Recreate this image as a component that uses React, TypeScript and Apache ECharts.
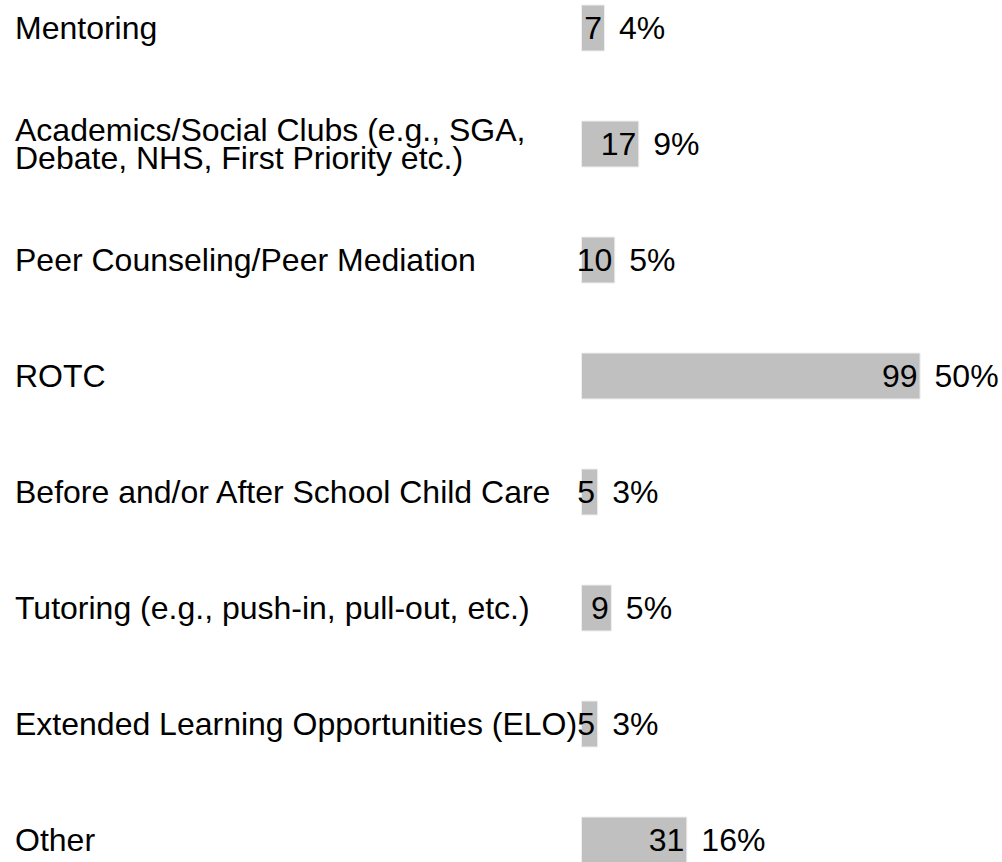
import React, { useEffect, useRef } from "react";
import * as echarts from "echarts";

const categories = [
  "Mentoring",
  "Academics/Social Clubs (e.g., SGA,\nDebate, NHS, First Priority etc.)",
  "Peer Counseling/Peer Mediation",
  "ROTC",
  "Before and/or After School Child Care",
  "Tutoring (e.g., push-in, pull-out, etc.)",
  "Extended Learning Opportunities (ELO)",
  "Other",
];
const counts = [7, 17, 10, 99, 5, 9, 5, 31];
const percents = ["4%", "9%", "5%", "50%", "3%", "5%", "3%", "16%"];

const FONT = "'Liberation Sans', Arial, sans-serif";

export default function App() {
  const ref = useRef<HTMLDivElement>(null);
  useEffect(() => {
    document.body.style.margin = "0";
    const chart = echarts.init(ref.current!, null, { renderer: "svg" });
    chart.setOption({
      animation: false,
      backgroundColor: "#ffffff",
      grid: { left: 581, right: 78, top: 0, bottom: 0, containLabel: false },
      xAxis: {
        type: "value",
        min: 0,
        max: 100,
        show: false,
      },
      yAxis: {
        type: "category",
        data: categories,
        inverse: true,
        axisLine: { show: false },
        axisTick: { show: false },
        splitLine: { show: false },
        axisLabel: {
          align: "left",
          margin: 566,
          fontFamily: FONT,
          fontSize: 32,
          lineHeight: 28,
          color: "#000000",
        },
      },
      series: [
        {
          type: "bar",
          data: counts,
          barWidth: 47,
          silent: true,
          itemStyle: { color: "#c0c0c0", borderColor: "#eeeeee", borderWidth: 1 },
          label: {
            show: true,
            position: "insideRight",
            distance: 3,
            fontFamily: FONT,
            fontSize: 32,
            color: "#000000",
          },
        },
        {
          type: "bar",
          data: counts,
          barWidth: 47,
          barGap: "-100%",
          silent: true,
          itemStyle: { color: "rgba(0,0,0,0)" },
          label: {
            show: true,
            position: "right",
            distance: 14,
            fontFamily: FONT,
            fontSize: 32,
            color: "#000000",
            formatter: (p: any) => percents[p.dataIndex],
          },
        },
      ],
    });
    return () => chart.dispose();
  }, []);
  return (
    <div style={{ position: "relative", width: 1002, height: 862, overflow: "hidden" }}>
      <div ref={ref} style={{ position: "absolute", left: 0, top: -30, width: 1002, height: 928 }} />
    </div>
  );
}
